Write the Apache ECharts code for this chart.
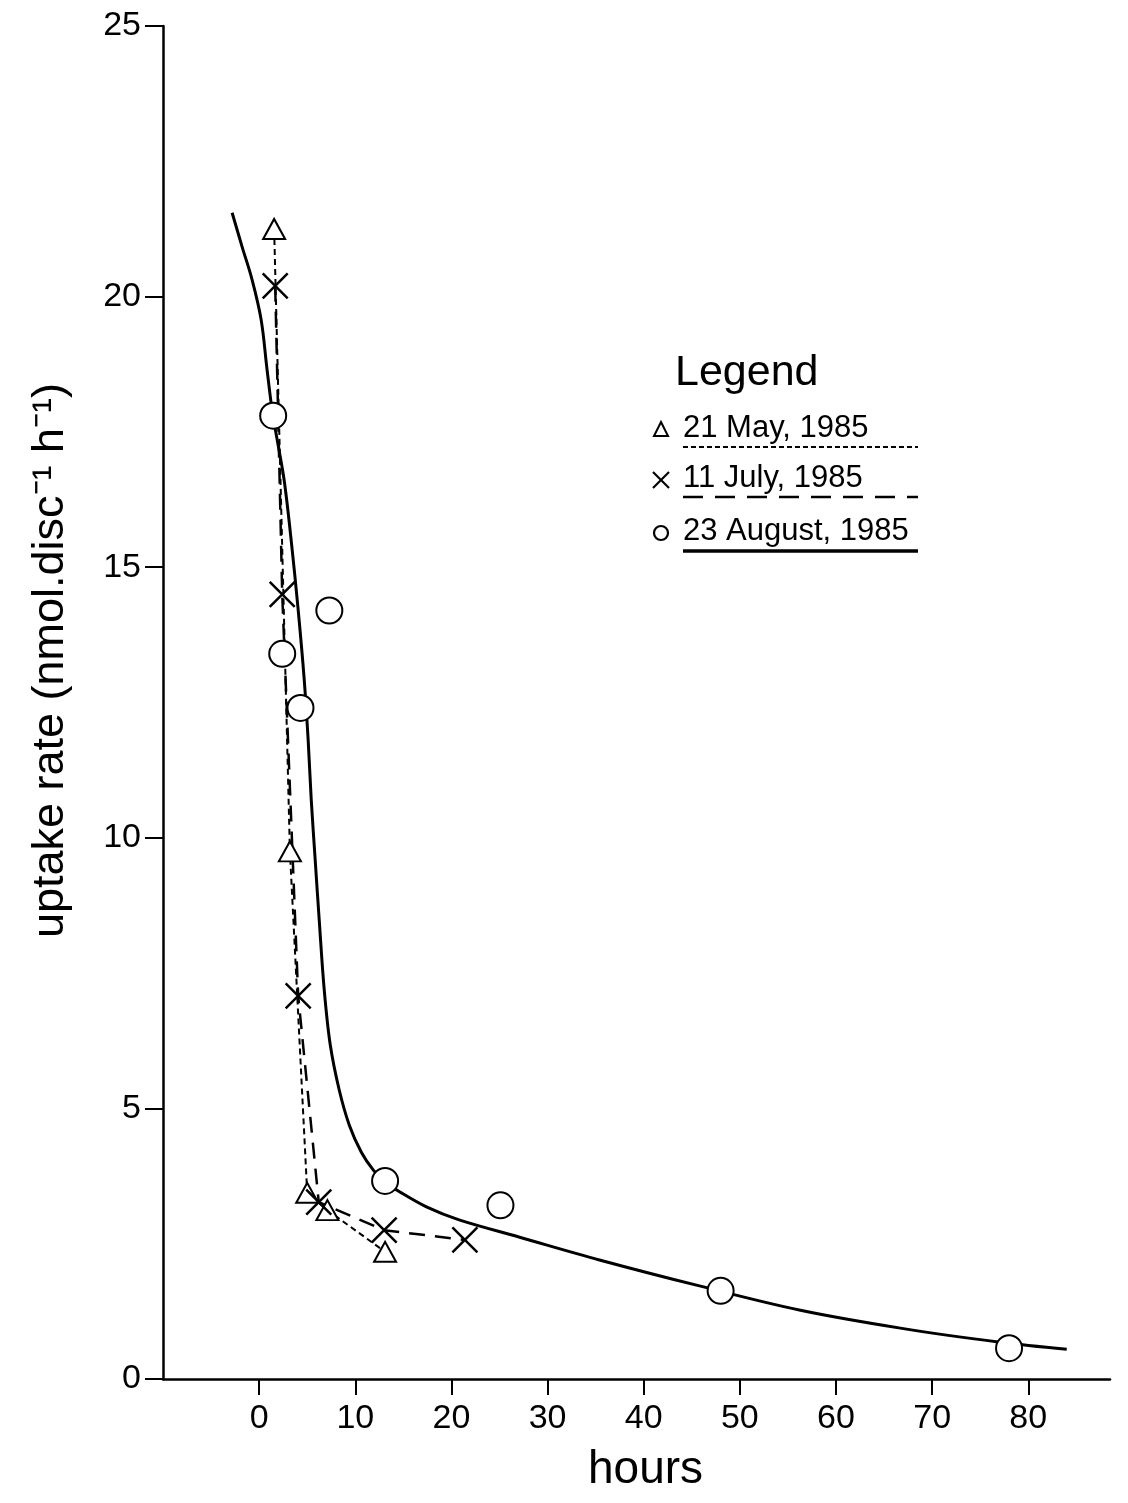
<!DOCTYPE html>
<html>
<head>
<meta charset="utf-8">
<script src="https://cdn.jsdelivr.net/npm/echarts@6/dist/echarts.min.js"></script>
<style>
html,body{margin:0;padding:0;background:#fff;}
#chart{width:1128px;height:1503px;}
</style>
</head>
<body>
<div id="chart"></div>
<script>
// ---- data ----
const mayHours  = [1.56, 3.2, 5.0, 7.1, 13.1];
const mayRate   = [21.25, 9.75, 3.44, 3.12, 2.35];

const julyHours = [1.67, 2.4, 4.06, 6.2, 13.0, 21.4];
const julyRate  = [20.2, 14.5, 7.08, 3.27, 2.75, 2.57];

const augHours  = [1.46, 2.4, 4.3, 7.3, 13.1, 25.1, 48.0, 78.0];
const augRate   = [17.8, 13.4, 12.4, 14.2, 3.66, 3.21, 1.63, 0.57];

// hand-fitted curve drawn through the August data
const fitHours = [-2.81, -1.77, -0.73, 0.21, 0.83, 1.35, 1.88, 2.6, 3.33, 4.06, 4.69, 5.1, 5.42, 5.83, 6.25, 6.77, 7.4, 8.33, 9.38, 10.63, 11.88, 13.1, 14.6, 17.4, 20.8, 27.1, 35.4, 45.8, 56.3, 66.7, 77.1, 84.0];
const fitRate  = [21.55, 20.92, 20.31, 19.57, 18.64, 17.9, 17.35, 16.61, 15.5, 14.21, 12.92, 11.8, 10.7, 9.59, 8.48, 7.19, 6.17, 5.34, 4.69, 4.19, 3.86, 3.64, 3.46, 3.18, 2.94, 2.62, 2.2, 1.72, 1.27, 0.94, 0.68, 0.55];

const xTicks = [0, 10, 20, 30, 40, 50, 60, 70, 80];
const yTicks = [0, 5, 10, 15, 20, 25];

const legendLabels = ['21 May, 1985', '11 July, 1985', '23 August, 1985'];

// ---- build ----
const zip = (a, b) => a.map((v, i) => [v, b[i]]);
const FONT = '"Liberation Sans", Arial, sans-serif';
const CROSS = 'path://M0,0L10,10M10,0L0,10';

const chart = echarts.init(document.getElementById('chart'), null, {renderer: 'canvas'});

const option = {
  backgroundColor: '#fff',
  animation: false,
  textStyle: {fontFamily: FONT, color: '#000'},
  grid: {left: 163, top: 26, right: 18, bottom: 124, containLabel: false},
  xAxis: {
    type: 'value',
    min: -10, max: 88.5, interval: 10,
    name: 'hours',
    nameLocation: 'middle',
    nameGap: 68,
    nameTextStyle: {fontSize: 46, color: '#000', fontFamily: FONT, padding: [0, 0, 0, 18]},
    axisLine: {onZero: false, lineStyle: {color: '#000', width: 2.5}},
    axisTick: {show: true, inside: false, length: 16, customValues: xTicks, lineStyle: {color: '#000', width: 2}},
    axisLabel: {
      show: true, margin: 23, fontSize: 34, color: '#000', fontFamily: FONT,
      customValues: xTicks,
      formatter: v => (xTicks.indexOf(v) >= 0 ? String(v) : '')
    },
    splitLine: {show: false}
  },
  yAxis: {
    type: 'value',
    min: 0, max: 25, interval: 5,
    name: 'uptake rate (nmol.disc\u207B\u00B9 h\u207B\u00B9)',
    nameLocation: 'middle',
    nameRotate: 90,
    nameGap: 90,
    nameTextStyle: {fontSize: 45, color: '#000', fontFamily: FONT, padding: [0, 0, 0, 84]},
    axisLine: {onZero: false, lineStyle: {color: '#000', width: 2.5}},
    axisTick: {show: true, length: 18, lineStyle: {color: '#000', width: 2}},
    axisLabel: {
      margin: 22, fontSize: 34, color: '#000', fontFamily: FONT,
      formatter: v => (yTicks.indexOf(v) >= 0 ? String(v) : '')
    },
    splitLine: {show: false}
  },
  series: [
    {
      name: 'fit',
      type: 'line',
      data: zip(fitHours, fitRate),
      smooth: 0.35,
      symbol: 'none',
      lineStyle: {color: '#000', width: 3, type: 'solid'},
      z: 2,
      silent: true
    },
    {
      name: legendLabels[0],
      type: 'line',
      data: zip(mayHours, mayRate),
      symbol: 'emptyTriangle',
      symbolSize: [22, 20],
      itemStyle: {color: '#000', borderWidth: 2, opacity: 1},
      lineStyle: {color: '#000', width: 2, type: [6, 4]},
      z: 3
    },
    {
      name: legendLabels[1],
      type: 'line',
      data: zip(julyHours, julyRate),
      symbol: CROSS,
      symbolSize: 25,
      itemStyle: {color: '#000', borderColor: '#000', borderWidth: 2.5, opacity: 1},
      lineStyle: {color: '#000', width: 2.5, type: [16, 10]},
      z: 3
    },
    {
      name: legendLabels[2],
      type: 'scatter',
      data: zip(augHours, augRate),
      symbol: 'emptyCircle',
      symbolSize: 26,
      itemStyle: {color: '#000', borderColor: '#000', borderWidth: 2.5, opacity: 1},
      z: 4
    }
  ],
  graphic: [
    {type: 'text', left: 675, top: 352, style: {text: 'Legend', font: '43px ' + FONT, fill: '#000'}},
    // item 1
    {type: 'polygon', shape: {points: [[661, 422], [668, 436], [654, 436]]}, style: {fill: 'none', stroke: '#000', lineWidth: 2}},
    {type: 'text', left: 683, top: 413, style: {text: legendLabels[0], font: '31px ' + FONT, fill: '#000'}},
    {type: 'line', shape: {x1: 683, y1: 447, x2: 918, y2: 447}, style: {stroke: '#000', lineWidth: 2, lineDash: [5, 3]}},
    // item 2
    {type: 'line', shape: {x1: 653, y1: 472, x2: 669, y2: 488}, style: {stroke: '#000', lineWidth: 2.2}},
    {type: 'line', shape: {x1: 669, y1: 472, x2: 653, y2: 488}, style: {stroke: '#000', lineWidth: 2.2}},
    {type: 'text', left: 683, top: 463, style: {text: legendLabels[1], font: '31px ' + FONT, fill: '#000'}},
    {type: 'line', shape: {x1: 683, y1: 497, x2: 918, y2: 497}, style: {stroke: '#000', lineWidth: 2.5, lineDash: [20, 12]}},
    // item 3
    {type: 'circle', shape: {cx: 661, cy: 533, r: 7}, style: {fill: 'none', stroke: '#000', lineWidth: 2.2}},
    {type: 'text', left: 683, top: 516, style: {text: legendLabels[2], font: '31px ' + FONT, fill: '#000'}},
    {type: 'line', shape: {x1: 683, y1: 551, x2: 918, y2: 551}, style: {stroke: '#000', lineWidth: 3.5}}
  ]
};

chart.setOption(option);
</script>
</body>
</html>
